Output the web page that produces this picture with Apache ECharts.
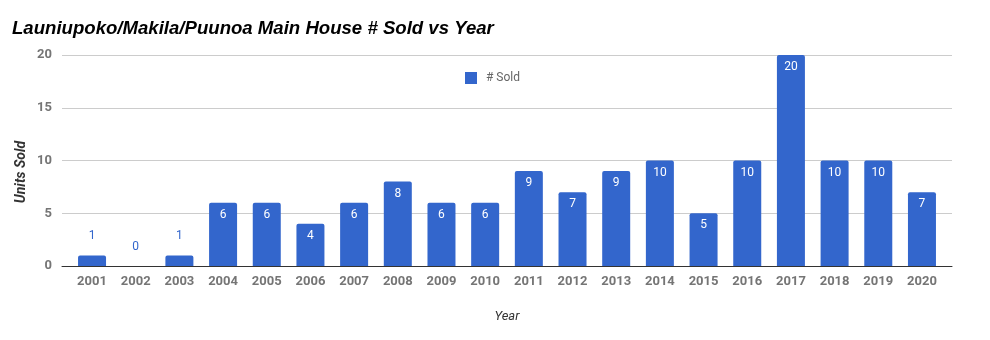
<!DOCTYPE html>
<html><head><meta charset="utf-8">
<script src="https://cdn.jsdelivr.net/npm/echarts@6/dist/echarts.min.js"></script>
<style>html,body{margin:0;padding:0;background:#fff}#c{width:990px;height:340px}</style>
</head><body><div id="c"></div>
<script>
const titleText = "Launiupoko/Makila/Puunoa Main House # Sold vs Year";
const seriesName = "# Sold";
const years = ["2001","2002","2003","2004","2005","2006","2007","2008","2009","2010","2011","2012","2013","2014","2015","2016","2017","2018","2019","2020"];
const sold = [1,0,1,6,6,4,6,8,6,6,9,7,9,10,5,10,20,10,10,7];
const yTicks = [0,5,10,15,20];
const yName = "Units Sold";
const xName = "Year";

const BLUE = "#3366cc";
const chart = echarts.init(document.getElementById('c'), null, {renderer:'canvas'});
const data = sold.map(v => ({
  value: v,
  label: v >= 2
    ? {position:'insideTop', distance:6, color:'#fff'}
    : {position:'top', distance:13, color:BLUE}
}));
chart.setOption({
  animation:false,
  title:{text:titleText, left:12, top:19, padding:0,
    textStyle:{fontFamily:'Liberation Sans', fontWeight:'bold', fontStyle:'italic', fontSize:18.6, color:'#000'}},
  legend:{data:[seriesName], left:465, top:72, padding:0, itemWidth:12, itemHeight:12,
    icon:'rect', textStyle:{fontFamily:'Roboto', fontSize:12, color:'#666', padding:[0,0,0,4]}},
  grid:[
    {left:70.2, right:46.2, top:55, height:211},
    {left:62, right:38, top:55, height:211}
  ],
  xAxis:[
    {type:'category', gridIndex:0, data:years, axisLine:{show:false}, axisTick:{show:false},
     axisLabel:{fontFamily:'Roboto', fontWeight:'bold', fontSize:13, color:'#757575', margin:9},
     name:xName, nameLocation:'middle', nameGap:44,
     nameTextStyle:{fontFamily:'Roboto', fontStyle:'italic', fontSize:13, color:'#333'}},
    {type:'value', gridIndex:1, min:0, max:1, axisLine:{show:true, lineStyle:{color:'#333', width:1}},
     axisTick:{show:false}, axisLabel:{show:false}, splitLine:{show:false}}
  ],
  yAxis:[
    {type:'value', gridIndex:0, min:0, max:20, show:false},
    {type:'value', gridIndex:1, min:yTicks[0], max:yTicks[yTicks.length-1], interval:5,
     axisLine:{show:false}, axisTick:{show:false},
     axisLabel:{fontFamily:'Roboto', fontWeight:'bold', fontSize:13, color:'#757575', margin:10},
     splitLine:{lineStyle:{color:'#cccccc', width:1}}}
  ],
  graphic:[{type:'text', x:21, y:172, rotation:Math.PI/2,
    style:{text:yName, fontFamily:'Roboto', fontWeight:'bold', fontStyle:'italic', fontSize:14,
      fill:'#333', align:'center', verticalAlign:'middle'}}],
  series:[{type:'bar', name:seriesName, xAxisIndex:0, yAxisIndex:0, data:data, barWidth:28,
    itemStyle:{color:BLUE, borderRadius:[2,2,0,0]},
    label:{show:true, fontFamily:'Roboto', fontSize:12}}]
});
</script></body></html>
